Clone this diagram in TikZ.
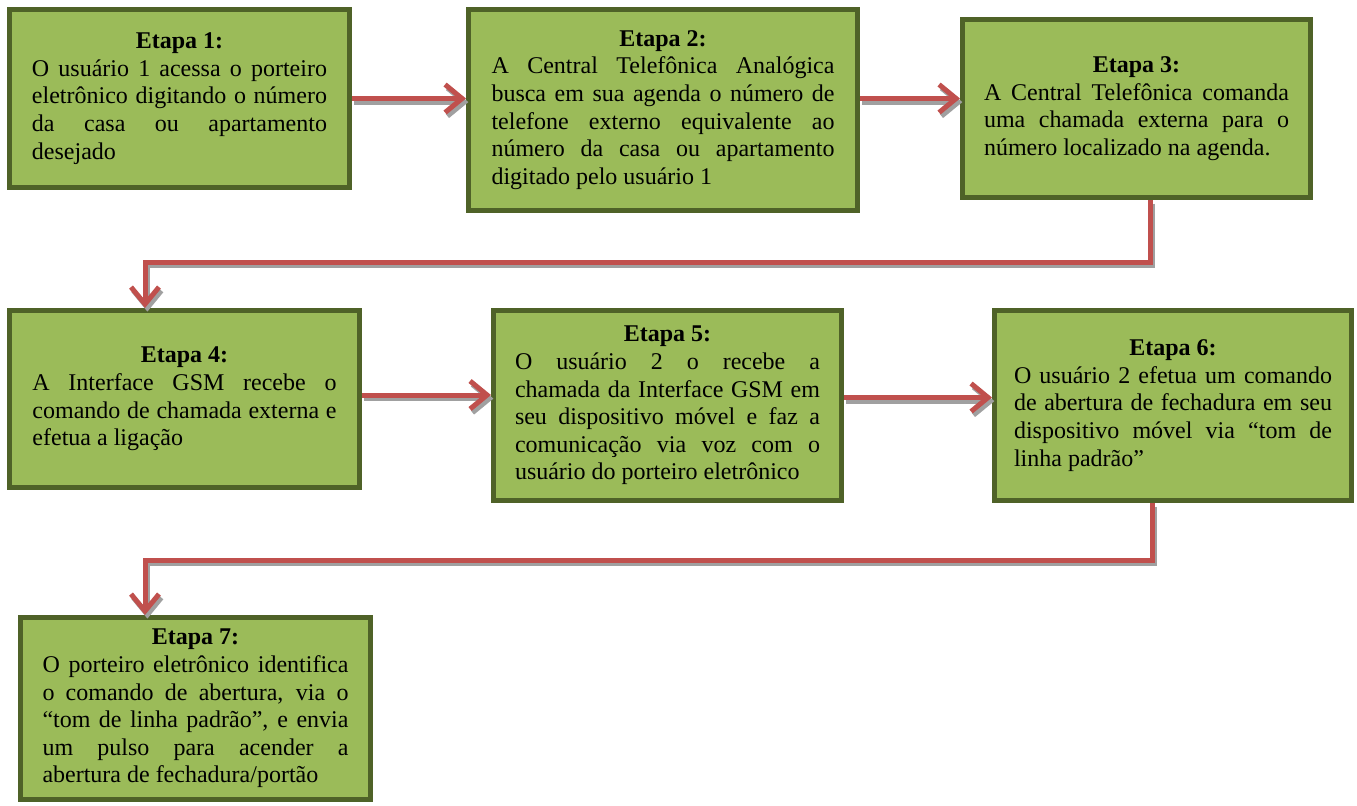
\documentclass[tikz,border=0pt]{standalone}
\usepackage{fontspec}
\setmainfont{Liberation Serif}
\usetikzlibrary{arrows.meta}
\definecolor{boxfill}{HTML}{9BBB59}
\definecolor{boxline}{HTML}{4F6228}
\definecolor{flow}{HTML}{C0504D}
\definecolor{flowshade}{HTML}{A0A0A0}
\hyphenpenalty=10000
\emergencystretch=20pt
\begin{document}
\begin{tikzpicture}[x=0.5pt,y=-0.5pt,
  stage/.style={rectangle, draw=boxline, fill=boxfill, line width=2.5pt,
    inner sep=0pt, align=justify, font=\fontsize{12}{13.8}\selectfont},
  flowline/.style={draw=flow, line width=2.5pt,
    -{Straight Barb[length=8.5pt,width=14pt]},
    preaction={draw=flowshade, line width=2.5pt,
      transform canvas={shift={(1.2pt,-1.8pt)}}}},
]
\useasboundingbox (0,0) rectangle (1357,805);

% process stages
\node[stage, minimum width=170pt, minimum height=89pt, text width=147.5pt] (b1) at (179.5,98.5)
  {{\centering\bfseries Etapa 1:\par}
   O usuário 1 acessa o porteiro\linebreak
   eletrônico digitando o número\linebreak
   da casa ou apartamento\linebreak
   desejado};

\node[stage, minimum width=194.5pt, minimum height=100.5pt, text width=171.5pt] (b2) at (663,110)
  {{\centering\bfseries Etapa 2:\par}
   A Central Telefônica Analógica\linebreak
   busca em sua agenda o número de\linebreak
   telefone externo equivalente ao\linebreak
   número da casa ou apartamento\linebreak
   digitado pelo usuário 1};

\node[stage, minimum width=174pt, minimum height=89pt, text width=152.5pt] (b3) at (1136.5,108.5)
  {{\centering\bfseries Etapa 3:\par}
   A Central Telefônica comanda\linebreak
   uma chamada externa para o\linebreak
   número localizado na agenda.};

\node[stage, minimum width=175pt, minimum height=88.5pt, text width=152pt] (b4) at (184.5,399)
  {{\centering\bfseries Etapa 4:\par}
   A Interface GSM recebe o\linebreak
   comando de chamada externa e\linebreak
   efetua a ligação};

\node[stage, minimum width=174pt, minimum height=95pt, text width=152.5pt] (b5) at (667.5,405.5)
  {{\centering\bfseries Etapa 5:\par}
   O usuário 2 o recebe a\linebreak
   chamada da Interface GSM em\linebreak
   seu dispositivo móvel e faz a\linebreak
   comunicação via voz com o\linebreak
   usuário do porteiro eletrônico};

\node[stage, minimum width=178.5pt, minimum height=95pt, text width=159pt] (b6) at (1173,405.5)
  {{\centering\bfseries Etapa 6:\par}
   O usuário 2 efetua um comando\linebreak
   de abertura de fechadura em seu\linebreak
   dispositivo móvel via “tom de\linebreak
   linha padrão”};

\node[stage, minimum width=175pt, minimum height=91pt, text width=153pt] (b7) at (195.5,708.5)
  {{\centering\bfseries Etapa 7:\par}
   O porteiro eletrônico identifica\linebreak
   o comando de abertura, via o\linebreak
   “tom de linha padrão”, e envia\linebreak
   um pulso para acender a\linebreak
   abertura de fechadura/portão};

% flow between stages
\draw[flowline] (b1.east) -- (b1.east -| b2.west);
\draw[flowline] (b1.east -| b2.east) -- (b1.east -| b3.west);
\draw[flowline] ([xshift=6.75pt]b3.south) -- ++(0,62) -| ([xshift=-19.75pt]b4.north);
\draw[flowline] ([yshift=2pt]b4.east) -- (b5.west |- 0,395);
\draw[flowline] ([yshift=4pt]b5.east) -- ([yshift=4pt]b6.west);
\draw[flowline] ([xshift=-10.5pt]b6.south) -- ++(0,57) -| ([xshift=-25.25pt]b7.north);
\end{tikzpicture}
\end{document}
